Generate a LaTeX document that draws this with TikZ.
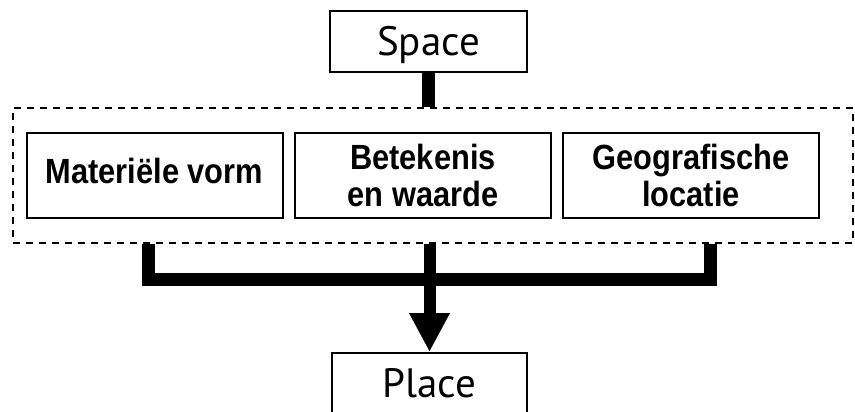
\documentclass[tikz,border=0pt]{standalone}
\usepackage{fontspec}
\setmainfont{PT Sans}
\newfontfamily\boxfont[FakeStretch=0.88]{Liberation Sans}
\usetikzlibrary{arrows.meta}
\begin{document}
\begin{tikzpicture}[x=1pt,y=-1pt,line join=miter]
\tikzset{
 term/.style={draw, line width=2pt, minimum width=197pt, minimum height=61pt, inner sep=0pt,
   font=\fontsize{41}{41}\selectfont, text height=28pt, text depth=0pt},
 facet/.style={draw, line width=2pt, minimum width=256pt, minimum height=85pt, inner sep=0pt,
   align=center, font=\boxfont\bfseries\fontsize{35}{36.5}\selectfont},
 group/.style={draw, line width=2pt, dash pattern=on 7pt off 6pt, inner sep=0pt,
   minimum width=840pt, minimum height=135pt},
 link/.style={line width=12.5pt, line cap=butt, line join=miter},
}
\clip (0,0) rectangle (855,412);
\fill[white] (0,0) rectangle (855,412);
\node[term] (space) at (428.5,41.5) {Space};
\node[group] (grp) at (433,175.5) {};
\node[facet, text depth=10pt] (mat) at (154.5,175.5) {Materiële vorm};
\node[facet] (bet) at (423,175.5) {Betekenis\\en waarde};
\node[facet] (geo) at (691,175.5) {Geografische\\locatie};
\node[term, minimum width=195pt] (place) at (429.5,383.5) {Place};
\coordinate (lj) at (148.5,279.5);
\coordinate (rj) at (710,279.5);
\draw[link] (space.south) -- (space.south |- grp.north);
\draw[link, line width=13pt] (lj |- grp.south) -- (lj) -- (rj) -- (rj |- grp.south);
\draw[link, line width=12pt, -{Triangle[width=38pt,length=39pt]}] (place.north |- grp.south) -- (place.north);
\end{tikzpicture}
\end{document}
